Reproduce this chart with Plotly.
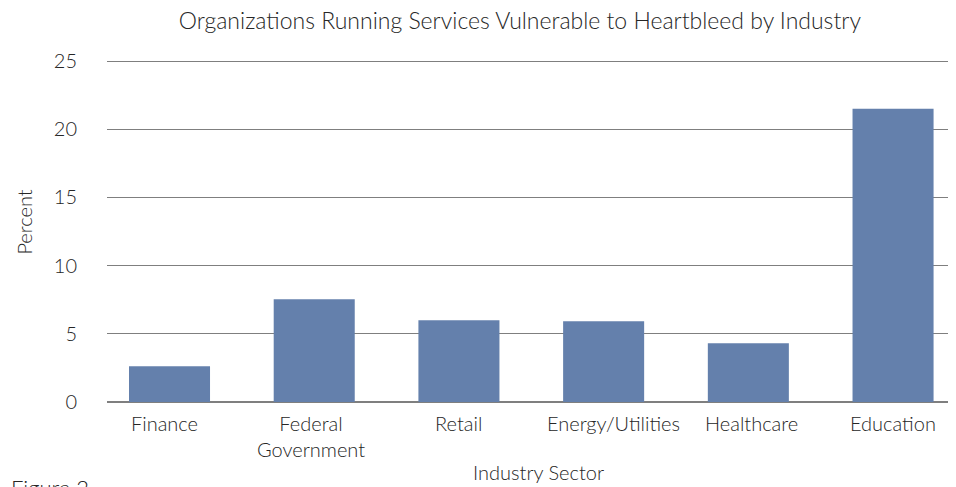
import plotly.graph_objects as go

categories = ["Finance", "Federal<br>Government", "Retail", "Energy/Utilities", "Healthcare", "Education"]
percent = [2.63, 7.53, 6.0, 5.92, 4.31, 21.5]
y_ticks = [0, 5, 10, 15, 20, 25]
label_shift = [-5, -3, 0, 10, 3, 0]  # small horizontal nudges of category labels (px)

font = "Lato, Open Sans, sans-serif"
fc = "#262626"

fig = go.Figure(go.Bar(
    x=list(range(len(categories))), y=percent,
    marker=dict(color="#6480ac", line=dict(width=0)),
    width=0.56,
))

annotations = []
for i, (lab, dx) in enumerate(zip(categories, label_shift)):
    annotations.append(dict(text=lab, x=i, xref="x", y=0, yref="paper", xanchor="center",
                            yanchor="top", yshift=-7, xshift=dx, showarrow=False, align="center",
                            font=dict(size=20, family=font, color=fc, weight=300)))
annotations += [
    dict(text="Industry Sector", xref="paper", yref="paper", x=0.508, y=-0.2047,
         xanchor="center", yanchor="middle", showarrow=False,
         font=dict(size=20, family=font, color=fc, weight=300)),
    dict(text="Percent", xref="paper", yref="paper", x=-0.0972, y=0.526, textangle=-90,
         xanchor="center", yanchor="middle", showarrow=False,
         font=dict(size=20, family=font, color=fc, weight=300)),
    dict(text="Figure 2", xref="paper", yref="paper", x=-0.1155, y=-0.205,
         xanchor="left", yanchor="top", showarrow=False,
         font=dict(size=22, family=font, color=fc, weight=300)),
]

fig.update_layout(
    width=948, height=479,
    margin=dict(l=99, r=0, t=52, b=85),
    paper_bgcolor="white", plot_bgcolor="white",
    font=dict(family=font, color=fc, size=20, weight=300),
    title=dict(text="Organizations Running Services Vulnerable to Heartbleed by Industry",
               x=0.540, xanchor="center", y=0.973, yanchor="middle",
               font=dict(size=23, family=font, color=fc, weight=300)),
    showlegend=False,
    xaxis=dict(
        tickmode="array", tickvals=list(range(len(categories))), showticklabels=False,
        range=[-0.432, 5.435], showgrid=False, showline=False, ticks="", automargin=False,
    ),
    yaxis=dict(
        range=[0, 25.08], tickvals=y_ticks, showgrid=True, gridcolor="#7f7f7f", gridwidth=1.3,
        zeroline=True, zerolinecolor="#7f7f7f", zerolinewidth=1.5, automargin=False,
        tickfont=dict(size=20, weight=300), ticks="outside", ticklen=25, tickcolor="white",
    ),
    annotations=annotations,
)

fig.write_html("out.html")
